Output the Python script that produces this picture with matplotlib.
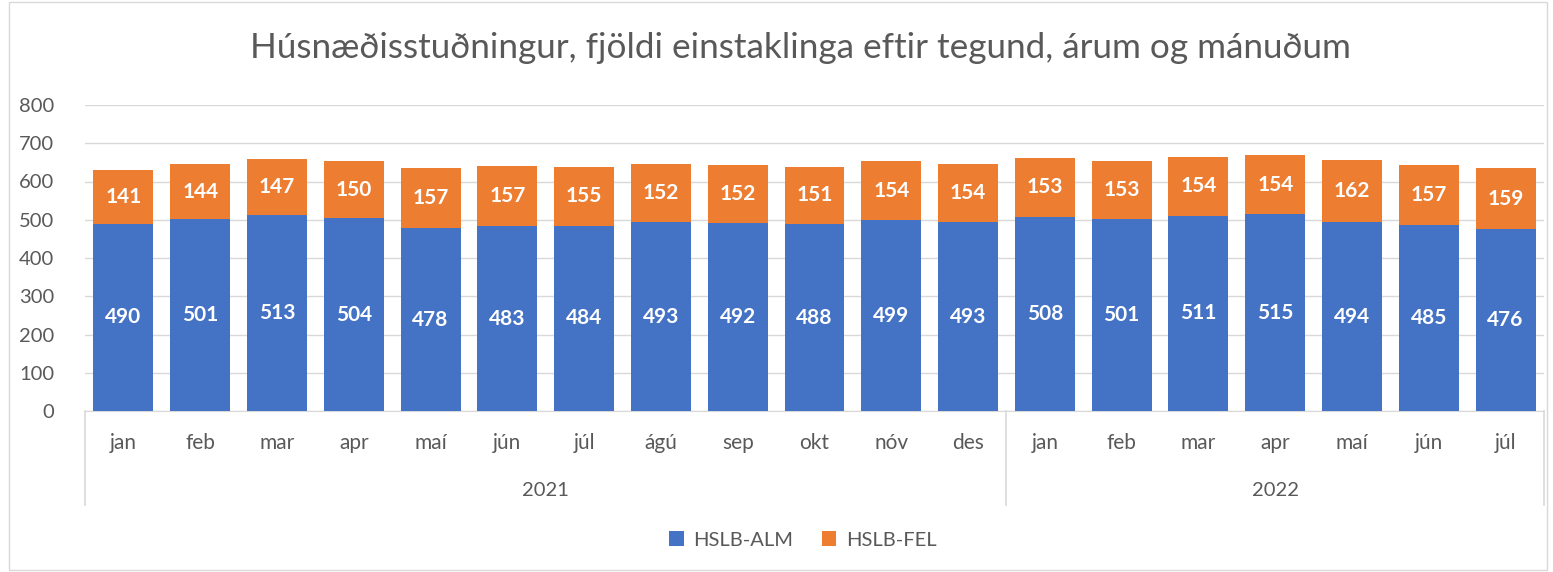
import matplotlib.pyplot as plt
import numpy as np
from matplotlib.patches import Rectangle

plt.rcParams['font.family'] = ['Lato', 'DejaVu Sans']

months = ['jan', 'feb', 'mar', 'apr', 'maí', 'jún', 'júl', 'ágú', 'sep', 'okt', 'nóv', 'des',
          'jan', 'feb', 'mar', 'apr', 'maí', 'jún', 'júl']
years = ['2021', '2022']
months_per_year = [12, 7]
alm = [490, 501, 513, 504, 478, 483, 484, 493, 492, 488, 499, 493,
       508, 501, 511, 515, 494, 485, 476]
fel = [141, 144, 147, 150, 157, 157, 155, 152, 152, 151, 154, 154,
       153, 153, 154, 154, 162, 157, 159]

blue = '#4472C4'
orange = '#ED7D31'
grid_c = '#D9D9D9'
text_c = '#595959'

fig = plt.figure(figsize=(15.53, 5.72), dpi=100)
# chart border
fig.patches.append(Rectangle((0.006, 0.003), 0.99, 0.994, transform=fig.transFigure,
                             fill=False, edgecolor='#D9D9D9', linewidth=1))

ax = fig.add_axes([85 / 1553, 1 - 411 / 572, (1544 - 85) / 1553, (411 - 105) / 572])
x = np.arange(len(months))
b1 = ax.bar(x, alm, width=0.78, color=blue, zorder=3)
b2 = ax.bar(x, fel, bottom=alm, width=0.78, color=orange, zorder=3)

for rect, v in zip(b1, alm):
    ax.text(rect.get_x() + rect.get_width() / 2, v / 2, str(v), ha='center', va='center',
            color='white', fontsize=15, fontweight='bold')
for rect, a, v in zip(b2, alm, fel):
    ax.text(rect.get_x() + rect.get_width() / 2, a + v / 2, str(v), ha='center', va='center',
            color='white', fontsize=15, fontweight='bold')

ax.set_xlim(-0.5, len(months) - 0.5)
ax.set_ylim(0, 800)
ax.set_yticks(range(0, 801, 100))
ax.yaxis.grid(True, color=grid_c, linewidth=1, zorder=0)
ax.tick_params(axis='y', length=0, labelsize=14.5, labelcolor=text_c, pad=22)
ax.tick_params(axis='x', length=0, labelsize=15, labelcolor=text_c, pad=16)
ax.set_xticks(x)
ax.set_xticklabels(months)
for s in ['top', 'right', 'left']:
    ax.spines[s].set_visible(False)
ax.spines['bottom'].set_color(grid_c)

# group axis: vertical separators and year labels
trans = ax.get_xaxis_transform()
edges = np.concatenate([[0], np.cumsum(months_per_year)]) - 0.5
for e in edges:
    ax.plot([e, e], [0, -94 / 306], transform=trans, color=grid_c, linewidth=1.2,
            clip_on=False)
for i, yr in enumerate(years):
    ax.text((edges[i] + edges[i + 1]) / 2, -79 / 306, yr, transform=trans,
            ha='center', va='center', fontsize=14.5, color=text_c)

fig.text(800 / 1553, 1 - 48 / 572, 'Húsnæðisstuðningur, fjöldi einstaklinga eftir tegund, árum og mánuðum',
         ha='center', va='center', fontsize=25.3, color=text_c)

leg = fig.legend([b1, b2], ['HSLB-ALM', 'HSLB-FEL'], loc='center',
                 bbox_to_anchor=(803 / 1553, 1 - 540 / 572), ncol=2, frameon=False,
                 fontsize=14.5, handlelength=0.7, handleheight=0.7, columnspacing=1.4,
                 handletextpad=0.5)
for t in leg.get_texts():
    t.set_color(text_c)

fig.savefig('out.png', dpi=100)
